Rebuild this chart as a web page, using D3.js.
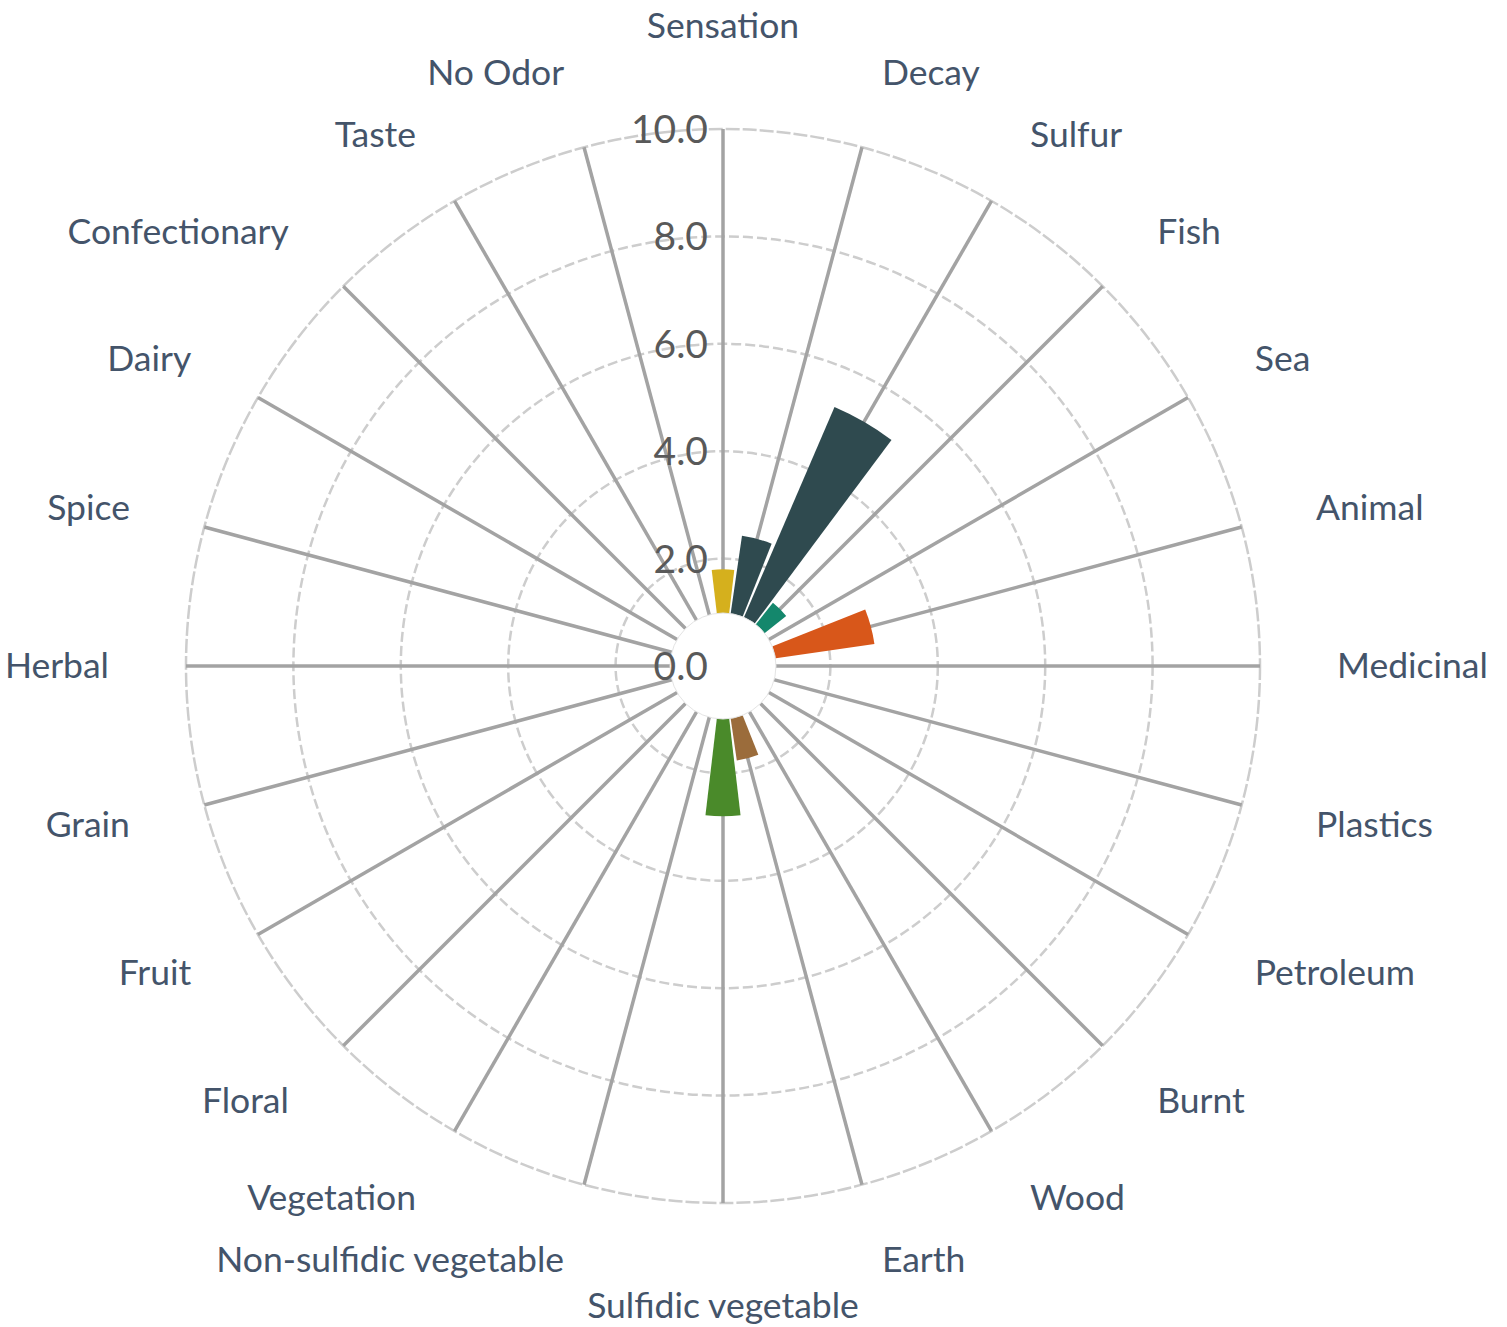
<!DOCTYPE html>
<html>
<head>
<meta charset="utf-8">
<script src="https://cdn.jsdelivr.net/npm/d3@7"></script>
<style>
  html, body { margin: 0; padding: 0; background: #fff; }
  svg { display: block; }
</style>
</head>
<body>
<svg id="chart" width="1507" height="1327"></svg>
<script>
// ---- data ----
const categories = [
  "Sensation", "Decay", "Sulfur", "Fish", "Sea", "Animal", "Medicinal",
  "Plastics", "Petroleum", "Burnt", "Wood", "Earth", "Sulfidic vegetable",
  "Non-sulfidic vegetable", "Vegetation", "Floral", "Fruit", "Grain",
  "Herbal", "Spice", "Dairy", "Confectionary", "Taste", "No Odor"
];
const values = [
  1.8, 2.45, 5.25, 1.5, 0, 2.85, 0,
  0, 0, 0, 0, 1.78, 2.8,
  0, 0, 0, 0, 0,
  0, 0, 0, 0, 0, 0
];
const tickValues = [0, 2, 4, 6, 8, 10];

// ---- styles ----
const barColor = {
  "Sensation": "#d5b01d",
  "Decay": "#2f4a4f",
  "Sulfur": "#2f4a4f",
  "Fish": "#14876c",
  "Animal": "#d8571a",
  "Earth": "#9b6c3b",
  "Sulfidic vegetable": "#4a8a2a"
};

const cx = 723, cy = 666;
const outerR = 537, holeR = 53;
const svg = d3.select("#chart");
const g = svg.append("g").attr("transform", `translate(${cx},${cy})`);

const r = d3.scaleLinear().domain([0, 10]).range([0, outerR]);
const step = 2 * Math.PI / categories.length;
const ang = d3.scaleBand().domain(categories).range([-step / 2, 2 * Math.PI - step / 2]).padding(0);
const center = c => ang(c) + ang.bandwidth() / 2;

// grid circles
g.append("g").selectAll("circle").data(tickValues.filter(d => d > 0)).join("circle")
  .attr("r", d => r(d))
  .attr("fill", "none")
  .attr("stroke", "#cdcdcd")
  .attr("stroke-width", 2.5)
  .attr("stroke-dasharray", d => d === 10 ? "14,3" : "10,4");

// spokes
g.append("g").selectAll("line").data(categories).join("line")
  .attr("x1", 0).attr("y1", 0)
  .attr("x2", d => outerR * Math.sin(center(d)))
  .attr("y2", d => -outerR * Math.cos(center(d)))
  .attr("stroke", "#a3a3a3")
  .attr("stroke-width", 3.5);

// bars
const halfW = (13.4 / 2) * Math.PI / 180;
const arc = d3.arc()
  .innerRadius(0)
  .outerRadius(d => r(d.v))
  .startAngle(d => center(d.c) - halfW)
  .endAngle(d => center(d.c) + halfW);
const barData = categories.map((c, i) => ({ c, v: values[i] })).filter(d => d.v > 0);
g.append("g").selectAll("path").data(barData).join("path")
  .attr("d", arc)
  .attr("fill", d => barColor[d.c] || "#2f4a4f");

// hole
g.append("circle").attr("r", holeR).attr("fill", "#fff").attr("stroke", "#e4e4e4").attr("stroke-width", 1);

// tick labels
g.append("g").selectAll("text").data(tickValues).join("text")
  .attr("x", -15)
  .attr("y", d => -r(d))
  .attr("dy", "0.36em")
  .attr("text-anchor", "end")
  .attr("font-family", "Lato, 'Open Sans', sans-serif")
  .attr("font-size", 39)
  .attr("fill", "#595959")
  .text(d => d3.format(".1f")(d));

// category labels
const labR = 614, labRv = 640;
g.append("g").selectAll("text").data(categories).join("text")
  .each(function(d) {
    const a = center(d);
    const s = Math.sin(a), c = Math.cos(a);
    const t = d3.select(this);
    if (Math.abs(s) < 0.01) {
      t.attr("x", 0).attr("y", -labRv * Math.sign(c)).attr("text-anchor", "middle");
    } else {
      t.attr("x", labR * s).attr("y", -labR * c).attr("text-anchor", s > 0 ? "start" : "end");
    }
  })
  .attr("dy", "0.35em")
  .attr("font-family", "Lato, 'Open Sans', sans-serif")
  .attr("font-size", 35.5)
  .attr("fill", "#44546a")
  .text(d => d);
</script>
</body>
</html>
